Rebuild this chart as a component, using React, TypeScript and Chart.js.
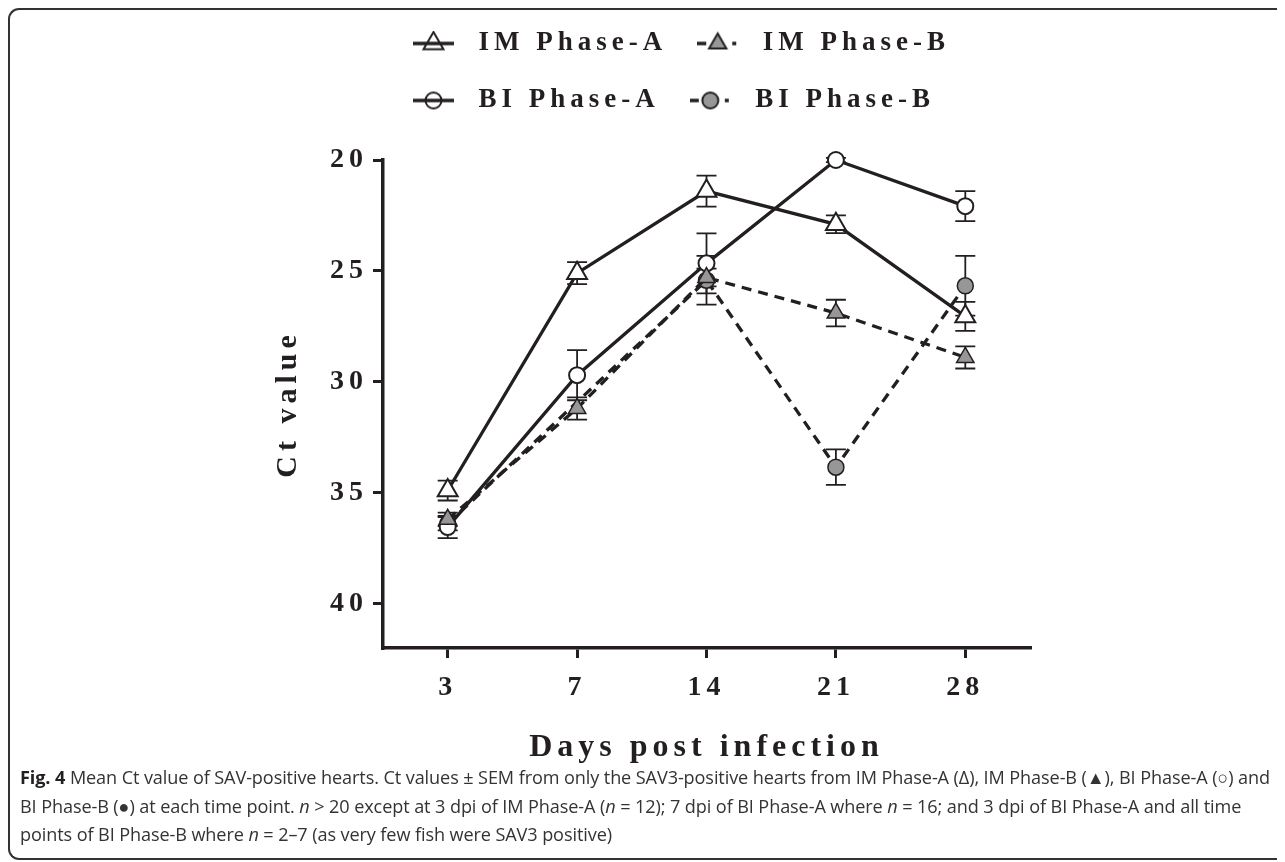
import React, { useEffect, useRef } from 'react';
import { Chart, registerables } from 'chart.js';
import { drawPoint } from 'chart.js/helpers';

Chart.register(...registerables);

// ---------- data ----------
const days = ['3', '7', '14', '21', '28'];
const seriesNames = ['IM Phase-A', 'IM Phase-B', 'BI Phase-A', 'BI Phase-B'];
const imPhaseA = [34.9, 25.1, 21.4, 22.9, 27.05];
const imPhaseAErr = [0.45, 0.5, 0.7, 0.4, 0.65];
const imPhaseB = [36.2, 31.2, 25.3, 26.9, 28.9];
const imPhaseBErr = [0.3, 0.5, 0.4, 0.6, 0.5];
const biPhaseA = [36.55, 29.7, 24.66, 20.0, 22.08];
const biPhaseAErr = [0.5, 1.13, 1.35, 0.1, 0.68];
const biPhaseB = [36.4, null, 25.42, 33.85, 25.67];
const biPhaseBErr = [0.3, null, 1.1, 0.8, 1.35];
const yTicks = [20, 25, 30, 35, 40];
const yMin = 20;
const yMax = 42;
const xTitle = 'Days post infection';
const yTitle = 'Ct value';

const INK = '#231f20';
const GRAY = '#979797';
const SERIF = '"Liberation Serif", "Times New Roman", serif';

const errorBarPlugin = {
  id: 'errorBars',
  beforeDatasetsDraw(chart: any) {
    const ctx = chart.ctx;
    const ys = chart.scales.y;
    chart.data.datasets.forEach((ds: any, di: number) => {
      const meta = chart.getDatasetMeta(di);
      meta.data.forEach((pt: any, i: number) => {
        const v = ds.data[i];
        const e = ds.errors[i];
        if (v == null || e == null) return;
        const yt = ys.getPixelForValue(v - e);
        const yb = ys.getPixelForValue(v + e);
        ctx.save();
        ctx.strokeStyle = INK;
        ctx.lineWidth = 1.8;
        ctx.beginPath();
        ctx.moveTo(pt.x, yt);
        ctx.lineTo(pt.x, yb);
        ctx.moveTo(pt.x - 10, yt);
        ctx.lineTo(pt.x + 10, yt);
        ctx.moveTo(pt.x - 10, yb);
        ctx.lineTo(pt.x + 10, yb);
        ctx.stroke();
        ctx.restore();
      });
    });
  },
};

const spacingPlugin = {
  id: 'letterSpacing',
  beforeLayout(chart: any) {
    chart.ctx.letterSpacing = '5px';
  },
  beforeDraw(chart: any) {
    chart.ctx.letterSpacing = '5px';
  },
};

function makeLegendSymbol(style: string, fill: string, dashed: boolean, radius: number) {
  const c = document.createElement('canvas');
  c.width = 52;
  c.height = 26;
  const g = c.getContext('2d') as CanvasRenderingContext2D;
  g.strokeStyle = INK;
  g.lineWidth = 3.3;
  g.beginPath();
  if (dashed) {
    g.moveTo(0, 13);
    g.lineTo(9, 13);
    g.moveTo(35, 13);
    g.lineTo(39, 13);
  } else {
    g.moveTo(0, 13);
    g.lineTo(41, 13);
  }
  g.stroke();
  g.fillStyle = fill;
  g.strokeStyle = INK;
  g.lineWidth = 2;
  drawPoint(g, { pointStyle: style, radius, borderWidth: 2, rotation: 0 } as any, 20.5, 13);
  return c;
}

export default function App() {
  const ref = useRef<HTMLCanvasElement>(null);

  useEffect(() => {
    if (!ref.current) return;
    const styles = [
      { style: 'triangle', fill: '#ffffff', legendFill: 'rgba(0,0,0,0)', dashed: false, r: 11.5 },
      { style: 'triangle', fill: GRAY, legendFill: GRAY, dashed: true, r: 10 },
      { style: 'circle', fill: '#ffffff', legendFill: 'rgba(0,0,0,0)', dashed: false, r: 8 },
      { style: 'circle', fill: GRAY, legendFill: GRAY, dashed: true, r: 8 },
    ];
    const values = [imPhaseA, imPhaseB, biPhaseA, biPhaseB];
    const errors = [imPhaseAErr, imPhaseBErr, biPhaseAErr, biPhaseBErr];
    const symbols = styles.map((s) => makeLegendSymbol(s.style, s.legendFill, s.dashed, s.r));

    const datasets = seriesNames.map((name, i) => ({
      label: name,
      data: values[i],
      errors: errors[i],
      borderColor: INK,
      borderWidth: 3.3,
      borderDash: styles[i].dashed ? [10, 7] : [],
      pointStyle: styles[i].style,
      pointRadius: styles[i].r,
      pointBackgroundColor: styles[i].fill,
      pointBorderColor: INK,
      pointBorderWidth: styles[i].fill === GRAY ? 1.5 : 2,
      tension: 0,
      spanGaps: true,
      clip: false,
      fill: false,
    }));

    const chart = new Chart(ref.current, {
      type: 'line',
      data: { labels: days, datasets },
      options: {
        animation: false,
        responsive: false,
        devicePixelRatio: 1,
        events: [],
        layout: { padding: { left: 0, right: 248, top: 0, bottom: 0 } },
        plugins: {
          tooltip: { enabled: false },
          title: {
            display: true,
            text: '',
            weight: 500,
            fullSize: false,
            font: { size: 1, lineHeight: 1.2 },
            padding: { top: 0, bottom: 34.8 },
          } as any,
          legend: {
            display: true,
            position: 'top',
            align: 'start',
            fullSize: false,
            labels: {
              usePointStyle: true,
              pointStyleWidth: 52,
              padding: 30,
              color: INK,
              font: { family: SERIF, size: 27, weight: 'bold' },
              generateLabels: () =>
                seriesNames.map((name, i) => ({
                  text: name,
                  pointStyle: symbols[i],
                  fillStyle: styles[i].fill,
                  strokeStyle: INK,
                  lineWidth: 0,
                  fontColor: INK,
                  hidden: false,
                  datasetIndex: i,
                })) as any,
            },
          },
        },
        scales: {
          x: {
            type: 'category',
            offset: true,
            afterFit: (s: any) => {
              s.height = 122;
            },
            grid: {
              display: true,
              drawOnChartArea: false,
              drawTicks: true,
              tickLength: 10,
              lineWidth: 3,
              color: INK,
            },
            border: { display: true, width: 3.5, color: INK },
            ticks: {
              color: INK,
              padding: 13,
              font: { family: SERIF, size: 28, weight: 'bold' },
            },
            title: {
              display: true,
              text: xTitle,
              color: INK,
              font: { family: SERIF, size: 32, weight: 'bold' },
              padding: { top: 0, bottom: 3 },
            },
          },
          y: {
            type: 'linear',
            reverse: true,
            min: yMin,
            max: yMax,
            afterFit: (s: any) => {
              s.width = 375;
            },
            afterBuildTicks: (s: any) => {
              s.ticks = yTicks.map((v) => ({ value: v }));
            },
            grid: {
              display: true,
              drawOnChartArea: false,
              drawTicks: true,
              tickLength: 10,
              lineWidth: 3,
              color: INK,
            },
            border: { display: true, width: 3.5, color: INK },
            ticks: {
              color: INK,
              padding: 5,
              font: { family: SERIF, size: 28, weight: 'bold' },
            },
            title: {
              display: true,
              text: yTitle,
              color: INK,
              font: { family: SERIF, size: 30, weight: 'bold' },
              padding: { top: 262, bottom: 0 },
            },
          },
        },
      },
      plugins: [spacingPlugin, errorBarPlugin],
    } as any);
    return () => chart.destroy();
  }, []);

  return (
    <div style={{ position: 'relative', width: 1277, height: 852 }}>
      <div
        style={{
          position: 'absolute',
          left: 0,
          top: 0,
          width: 1277,
          height: 852,
          boxSizing: 'border-box',
          borderLeft: '2px solid #333',
          borderTop: '2px solid #333',
          borderBottom: '2px solid #333',
          borderRight: 'none',
          borderTopLeftRadius: 11,
          borderBottomLeftRadius: 11,
        }}
      />
      <canvas
        ref={ref}
        width={1270}
        height={770}
        style={{ position: 'absolute', left: 0, top: -8, width: 1270, height: 770 }}
      />
      <div
        style={{
          position: 'absolute',
          left: 12,
          top: 755,
          width: 1265,
          whiteSpace: 'nowrap',
          fontFamily: '"Open Sans", sans-serif',
          fontSize: 18.1,
          lineHeight: '28.5px',
          letterSpacing: '-0.1px',
          color: '#333',
        }}
      >
        <b style={{ color: INK }}>Fig. 4</b> Mean Ct value of SAV-positive hearts. Ct values ± SEM from only the
        SAV3-positive hearts from IM Phase-A (Δ), IM Phase-B (▲), BI Phase-A (○) and
        <br />
        BI Phase-B (●) at each time point. <i>n</i> &gt; 20 except at 3 dpi of IM Phase-A (<i>n</i> = 12); 7 dpi of BI
        Phase-A where <i>n</i> = 16; and 3 dpi of BI Phase-A and all time
        <br />
        points of BI Phase-B where <i>n</i> = 2–7 (as very few fish were SAV3 positive)
      </div>
    </div>
  );
}
